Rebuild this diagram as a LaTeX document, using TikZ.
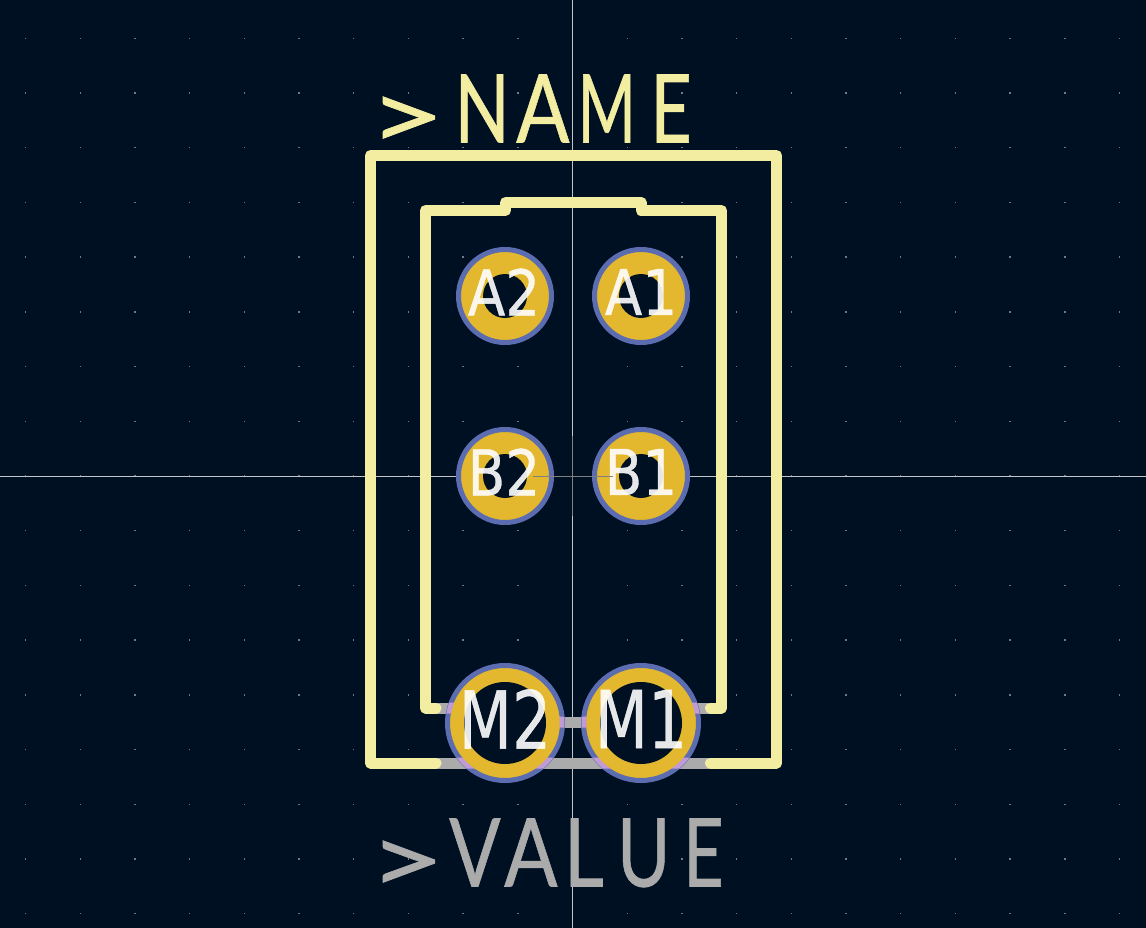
\documentclass[tikz,border=0pt]{standalone}
\usepackage{fontspec}
\setmainfont[FakeBold=.7]{Lato}
\newfontfamily\padfont[FakeBold=.6]{DejaVu Sans}
\usetikzlibrary{calc}
\definecolor{boardbg}{HTML}{001023}
\definecolor{silk}{HTML}{F2EDA1}
\definecolor{fab}{HTML}{ABABAB}
\definecolor{padgold}{HTML}{E3B72E}
\definecolor{padblue}{HTML}{5B6DB0}
\definecolor{overlap}{HTML}{C19BD6}
\definecolor{griddot}{HTML}{6F7A86}
\newcommand{\lt}[3]{\hbox to #1pt{\scalebox{#2}[1]{#3}\hss}}
\newcommand{\gt}[1]{\hbox to #1pt{\raisebox{-7pt}{\scalebox{1.4}[1]{>}}\hss}}
\tikzset{
 x=1pt,y=-1pt,
 silkline/.style={draw=silk,line width=11pt,line cap=round,line join=round},
 fabline/.style={draw=fab,line width=11pt},
 smallpad/.style={circle,inner sep=0pt,minimum size=93pt,fill=padgold,draw=padblue,line width=5pt},
 bigpad/.style={circle,inner sep=0pt,minimum size=115pt,fill=padgold,draw=padblue,line width=5pt},
 padhole/.style={circle,inner sep=0pt,fill=boardbg},
 padtext/.style={text=white,text opacity=.9,inner sep=0pt,anchor=center},
 smalltext/.style={padtext,xscale=.87,font=\padfont\fontsize{63}{63}\selectfont},
 largetext/.style={padtext,xscale=.77,font=\padfont\fontsize{80}{80}\selectfont},
 bigtext/.style={text=silk,inner sep=0pt,anchor=base west,font=\fontsize{95}{95}\selectfont},
}
\begin{document}
\begin{tikzpicture}
\useasboundingbox (0,0) rectangle (1146,928);
\fill[boardbg] (0,0) rectangle (1146,928);
% grid
\foreach \i in {-10,...,10}{\foreach \j in {-8,...,8}{
  \fill[griddot] ({572.5+54.7*\i-.7},{476+54.7*\j-.7}) rectangle ++(1.4,1.4);}}
% crosshair
\draw[fab!70!white,line width=.9pt] (572.5,0) -- (572.5,928);
\draw[fab!70!white,line width=.9pt] (0,476) -- (1146,476);
% fabrication lines
\draw[fabline] (436,763) -- (710.5,763);
\draw[fabline] (436,708) -- (470,708);
\draw[fabline] (676,708) -- (710.5,708);
\draw[fabline] (505,722) -- (641,722);
% pads
\node[smallpad] (A2) at (505,296) {};
\node[smallpad] (A1) at (641,296) {};
\node[smallpad] (B2) at (505,476) {};
\node[smallpad] (B1) at (641,476) {};
\node[bigpad] (M2) at (505,723) {};
\node[bigpad] (M1) at (641,723) {};
% ring crossed by fabrication lines
\begin{scope}
\clip (436,757.5) rectangle (710.5,768.5) (436,702.5) rectangle (500,713.5)
      (646,702.5) rectangle (710.5,713.5) (505,716.5) rectangle (641,727.5);
\foreach \p in {M1,M2}{\draw[overlap,line width=5pt] (\p) circle[radius=57pt];}
\fill[padgold] (M1) circle[radius=54.5pt] (M2) circle[radius=54.5pt];
\end{scope}
% holes
\node[padhole,minimum size=44pt] (hA2) at (A2) {};
\node[padhole,minimum size=44pt] (hA1) at (A1) {};
\node[padhole,minimum size=44pt] (hB2) at (B2) {};
\node[padhole,minimum size=44pt] (hB1) at (B1) {};
\node[padhole,minimum size=82pt] (hM2) at (M2) {};
\node[padhole,minimum size=82pt] (hM1) at (M1) {};
% silkscreen
\draw[silkline] (436,763) -- (370.5,763) -- (370.5,155.5) -- (776.5,155.5) -- (776.5,763) -- (710.5,763);
\draw[silkline] (436,708) -- (425.5,708) -- (425.5,210.5) -- (505.5,210.5) -- (505.5,202.5)
  -- (641,202.5) -- (641,210.5) -- (721.5,210.5) -- (721.5,708) -- (710.5,708);
% reference and value
\node[bigtext] (name) at (368,142.5) {\gt{86.4}\lt{61.6}{.76}{N}\lt{61.5}{.83}{A}\lt{72.5}{.66}{M}\lt{40}{.76}{E}};
\node[bigtext,text=fab] (value) at (368,886.5) {\gt{81}\lt{55}{.8}{V}\lt{59.5}{.83}{A}\lt{53.5}{.82}{L}\lt{66}{.76}{U}\lt{40}{.74}{E}};
% pad numbers
\node[smalltext] (tA2) at (504,292) {A2};
\node[smalltext] (tA1) at (641,292) {A1};
\node[smalltext] (tB2) at (504,472) {B2};
\node[smalltext] (tB1) at (641,472) {B1};
\node[largetext] (tM2) at (505,719) {M2};
\node[largetext] (tM1) at (641,719) {M1};
% anchor cross
\draw[gray,line width=.9pt] (533,476) -- (613,476);
\draw[gray,line width=.9pt] (572.5,436) -- (572.5,516);
\end{tikzpicture}
\end{document}
